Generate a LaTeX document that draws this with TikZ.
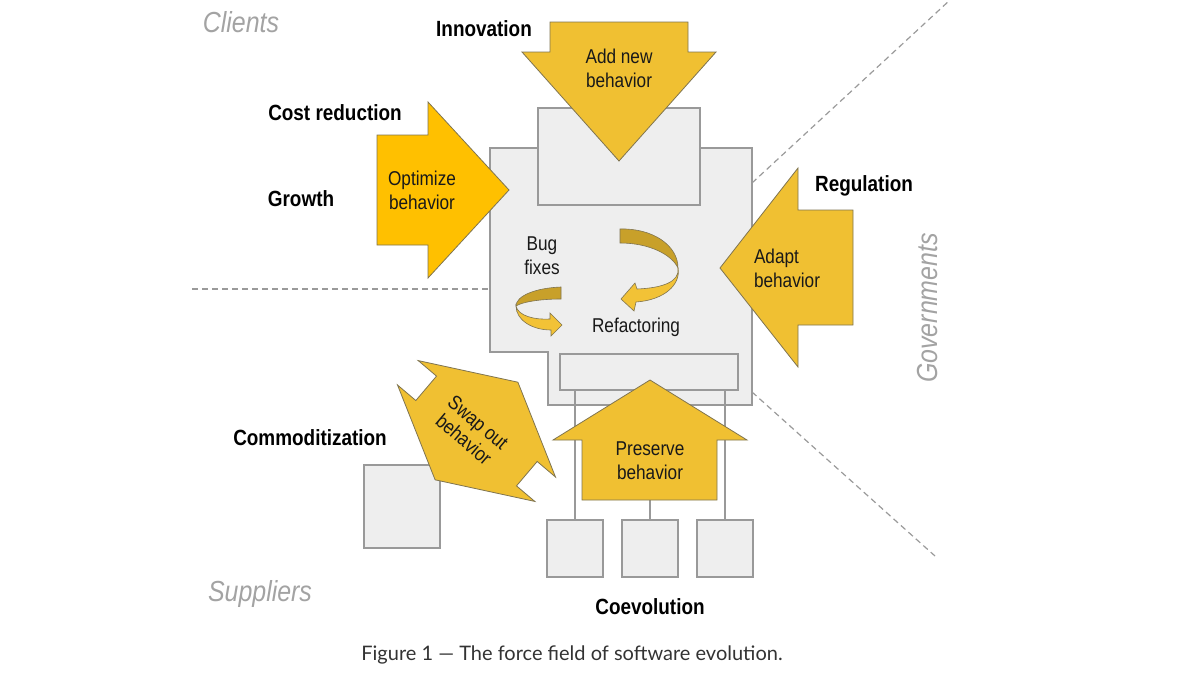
\documentclass[tikz,border=0pt]{standalone}
\usepackage{fontspec}
\newfontfamily\lab[FakeStretch=0.86]{Liberation Sans}
\newfontfamily\capfont{Lato}
\definecolor{boxfill}{HTML}{EEEEEE}
\definecolor{boxline}{HTML}{999999}
\definecolor{dashgray}{HTML}{9A9A9A}
\definecolor{zonegray}{HTML}{A3A3A3}
\definecolor{ayellow}{HTML}{F0C032}
\definecolor{oyellow}{HTML}{FFC000}
\definecolor{aline}{HTML}{7F7450}
\definecolor{cdark}{HTML}{C8A02A}
\definecolor{clight}{HTML}{F2C236}
\definecolor{capgray}{HTML}{333333}
\tikzset{
  lbl/.style={font=\lab\bfseries\fontsize{22}{26}\selectfont, text=black, inner sep=0pt},
  atxt/.style={font=\lab\fontsize{20}{24}\selectfont, align=center, inner sep=0pt, text=black!90},
  zone/.style={font=\lab\itshape\fontsize{29}{32}\selectfont, text=zonegray, inner sep=0pt},
  boxsq/.style={fill=boxfill, draw=boxline, line width=1.2pt, inner sep=0pt},
  arr/.style={fill=ayellow, draw=aline, line width=0.8pt, line join=miter},
  zoneline/.style={draw=dashgray, line width=1.2pt, dash pattern=on 6pt off 4pt},
  conn/.style={draw=boxline, line width=1.2pt},
  curlback/.style={fill=cdark, draw=aline, line width=0.6pt},
  curlfront/.style={fill=clight, draw=aline, line width=0.6pt, line join=miter}
}
\begin{document}
\begin{tikzpicture}[x=1pt,y=-1pt]
\useasboundingbox (0,0) rectangle (1200,675);
% zone dividers
\coordinate (hl1) at (192,289);
\coordinate (hl2) at (490,289);
\coordinate (ur1) at (752,183);
\coordinate (ur2) at (950,0);
\coordinate (lr1) at (752,392);
\coordinate (lr2) at (935,556);
\draw[zoneline] (hl1) -- (hl2);
\draw[zoneline] (ur1) -- (ur2);
\draw[zoneline] (lr1) -- (lr2);
% main system block
\draw[fill=boxfill, draw=boxline, line width=1.2pt]
  (490,148) -- (752,148) -- (752,405) -- (548,405) -- (548,352) -- (490,352) -- cycle;
\node[boxsq, minimum width=162pt, minimum height=97pt] (ub) at (619,156.5) {};
\node[boxsq, minimum width=178pt, minimum height=36pt] (lb) at (649,372) {};
% co-evolving components
\node[boxsq, minimum width=56pt, minimum height=57pt] (s1) at (575,548.5) {};
\node[boxsq, minimum width=56pt, minimum height=57pt] (s2) at (650,548.5) {};
\node[boxsq, minimum width=56pt, minimum height=57pt] (s3) at (725,548.5) {};
\node[boxsq, minimum width=76pt, minimum height=83pt] (cs) at (402,506.5) {};
\coordinate (pab) at (650,500);
\draw[conn] (s1.north) -- (s1.north |- lb.south);
\draw[conn] (s3.north) -- (s3.north |- lb.south);
\draw[conn] (s2.north) -- (pab);
% force arrows
\draw[arr] (550,22) -- (688,22) -- (688,52) -- (716,52) -- (619,161) -- (522,52) -- (550,52) -- cycle;
\draw[arr, fill=oyellow] (377,135) -- (428,135) -- (428,102) -- (509,190) -- (428,278) -- (428,245) -- (377,245) -- cycle;
\draw[arr] (853,210) -- (798,210) -- (798,168) -- (720,268) -- (798,367) -- (798,325) -- (853,325) -- cycle;
\draw[arr] (582,500) -- (582,440) -- (553,440) -- (650,380) -- (747,440) -- (717,440) -- (717,500) -- cycle;
\begin{scope}[shift={(476.5,431)}, rotate=49.7]
\draw[arr] (64,0) -- (16,-90) -- (16,-66) -- (-16,-66) -- (-16,-90) -- (-64,0) -- (-16,90) -- (-16,66) -- (16,66) -- (16,90) -- cycle;
\end{scope}
% refactoring curl
\draw[curlback] (620,229) .. controls (652,228) and (678,245) .. (678,268)
  .. controls (672,255) and (650,243) .. (620,243) -- cycle;
\draw[curlfront] (678,268) .. controls (680,282) and (662,288) .. (637,289)
  -- (635,283) -- (621,299) -- (634,311) -- (636,302)
  .. controls (665,300) and (681,284) .. (678,268) -- cycle;
% bug fix curl
\draw[curlback] (561,287) .. controls (535,288) and (516,296) .. (516,306)
  .. controls (522,302) and (540,299) .. (561,299) -- cycle;
\draw[curlfront] (516,306) .. controls (518,316) and (535,320) .. (550,319)
  -- (550,313) -- (562,325) -- (551,336) -- (551,330)
  .. controls (532,330) and (516,320) .. (516,306) -- cycle;
% arrow texts
\node[atxt] (tadd) at (619,68) {Add new\\behavior};
\node[atxt] (topt) at (422,190) {Optimize\\behavior};
\node[atxt, align=left] (tada) at (787,268) {Adapt\\behavior};
\node[atxt] (tpre) at (650,461) {Preserve\\behavior};
\node[atxt, font=\lab\fontsize{20}{22}\selectfont] (tswp) at (471,431) [rotate=-40.3] {Swap out\\behavior};
\node[atxt] (tbug) at (542,256) {Bug\\fixes};
\node[atxt] (tref) at (636,327) {Refactoring};
% force labels
\node[lbl] (linn) at (484,29) {Innovation};
\node[lbl] (lcost) at (335,113) {Cost reduction};
\node[lbl] (lgro) at (301,199) {Growth};
\node[lbl] (lreg) at (864,186) {Regulation};
\node[lbl] (lcom) at (310,438) {Commoditization};
\node[lbl] (lcoe) at (650,607) {Coevolution};
% zones
\node[zone] (zcli) at (241,22) {Clients};
\node[zone] (zsup) at (260,594) {Suppliers};
\node[zone, rotate=90] (zgov) at (928,308) {Governments};
% caption
\node[font=\capfont\fontsize{20}{24}\selectfont, text=capgray, inner sep=0pt] (cap) at (572,655) {Figure 1 — The force field of software evolution.};
\end{tikzpicture}
\end{document}
